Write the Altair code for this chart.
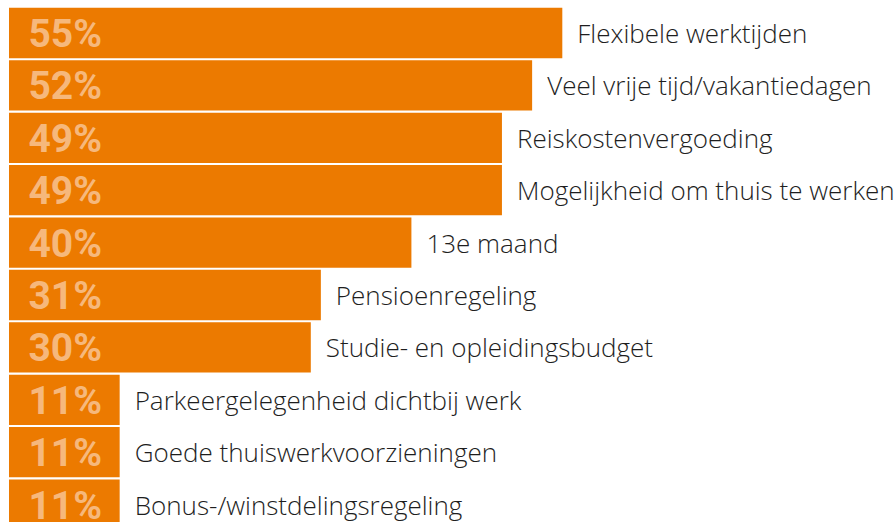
import altair as alt
import pandas as pd

labels = [
    "Flexibele werktijden",
    "Veel vrije tijd/vakantiedagen",
    "Reiskostenvergoeding",
    "Mogelijkheid om thuis te werken",
    "13e maand",
    "Pensioenregeling",
    "Studie- en opleidingsbudget",
    "Parkeergelegenheid dichtbij werk",
    "Goede thuiswerkvoorzieningen",
    "Bonus-/winstdelingsregeling",
]
values = [55, 52, 49, 49, 40, 31, 30, 11, 11, 11]
ranks = list(range(len(labels)))

df = pd.DataFrame({"label": labels, "value": values, "rank": ranks})

x_scale = alt.Scale(domain=[0, 88.17], nice=False, zero=True)
y_scale = alt.Scale(domain=[-0.496, 9.332], nice=False, zero=False, reverse=True)

base = alt.Chart(df).transform_calculate(
    lo="datum.rank - 0.48",
    hi="datum.rank + 0.48",
    zero="0",
    pct="datum.value + '%'",
)

bars = base.mark_bar(color="#EC7A00", clip=True).encode(
    x=alt.X("value:Q", scale=x_scale, axis=None),
    x2="zero:Q",
    y=alt.Y("lo:Q", scale=y_scale, axis=None),
    y2="hi:Q",
)

pct_text = base.mark_text(
    align="right", baseline="middle", dx=93, dy=2,
    font="Roboto", fontWeight="bold", fontSize=39, color="#F6B87C",
).encode(
    x=alt.X("zero:Q", scale=x_scale, axis=None),
    y=alt.Y("rank:Q", scale=y_scale, axis=None),
    text="pct:N",
)

lbl_text = base.mark_text(
    align="left", baseline="middle", dx=15, dy=2,
    font="Open Sans", fontWeight=300, fontSize=26, color="#1E1E1E",
).encode(
    x=alt.X("value:Q", scale=x_scale, axis=None),
    y=alt.Y("rank:Q", scale=y_scale, axis=None),
    text="label:N",
)

chart = alt.layer(bars, pct_text, lbl_text).properties(
    width=887,
    height=515,
    padding={"left": 9, "top": 7, "right": 0, "bottom": 0},
    autosize=alt.AutoSizeParams(type="none"),
    background="white",
).configure_view(stroke=None)

chart.save("out.html", embed_options={"renderer": "svg", "actions": False})
